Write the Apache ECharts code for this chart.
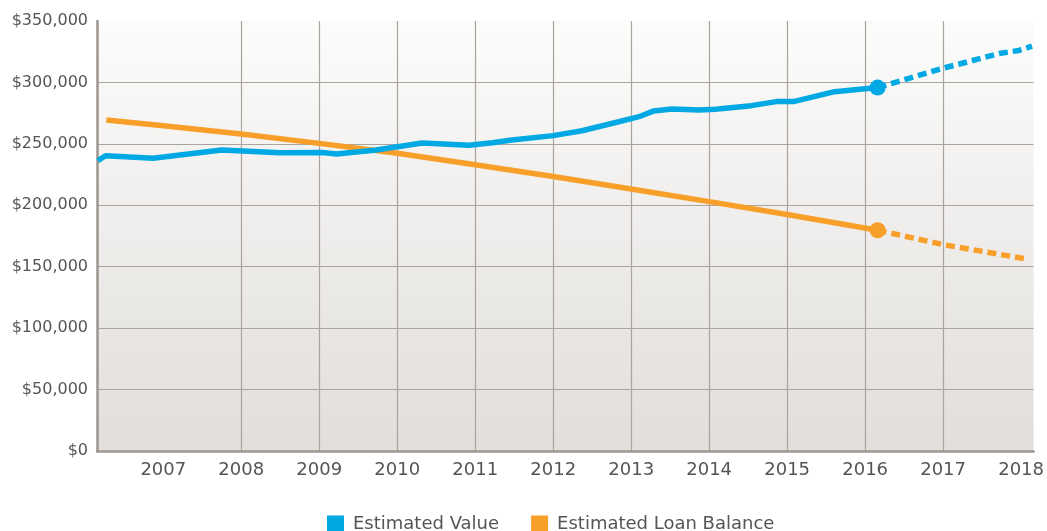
<!DOCTYPE html>
<html>
<head>
<meta charset="utf-8">
<script src="https://cdn.jsdelivr.net/npm/echarts@6/dist/echarts.min.js"></script>
<style>
  html, body { margin: 0; padding: 0; background: #ffffff; }
  #chart { width: 1047px; height: 531px; }
</style>
</head>
<body>
<div id="chart"></div>
<script>
// ---- data ----
const yearTicks = [2007, 2008, 2009, 2010, 2011, 2012, 2013, 2014, 2015, 2016, 2017, 2018];

const valueYears = [2006.16, 2006.26, 2006.87, 2007.75, 2008.49, 2009.04, 2009.22, 2009.73, 2010.32, 2010.92,
  2011.22, 2011.47, 2012.0, 2012.37, 2012.84, 2013.10, 2013.29, 2013.52, 2013.87, 2014.08,
  2014.54, 2014.86, 2015.08, 2015.61, 2016.16];
const valueAmounts = [236400, 240300, 238300, 245000, 242800, 242900, 241800, 245000, 250700, 248800,
  250900, 253100, 256700, 260700, 268000, 272100, 276800, 278400, 277600, 278200,
  281100, 284400, 284400, 292500, 295800];

const valueForecastYears = [2016.16, 2017.0, 2017.74, 2017.97, 2018.14];
const valueForecastAmounts = [295800, 311600, 323800, 326000, 329500];

const loanYears = [2006.27, 2007, 2008, 2009, 2010, 2011, 2012, 2013, 2014, 2015, 2016.16];
const loanAmounts = [269400, 264800, 258000, 250400, 242300, 233000, 223500, 213200, 203000, 192500, 179700];

const loanForecastYears = [2016.16, 2017, 2018.08];
const loanForecastAmounts = [179700, 168000, 156200];

const seriesNames = ['Estimated Value', 'Estimated Loan Balance'];

// ---- build ----
const zip = (xs, ys) => xs.map((x, i) => [x, ys[i]]);
const BLUE = '#00a9e3';
const ORANGE = '#f89f2a';
const TXT = '#555555';
const FONT = 'DejaVu Sans';

const chart = echarts.init(document.getElementById('chart'), null, { renderer: 'canvas' });

const last = (xs, ys) => [[xs[xs.length - 1], ys[ys.length - 1]]];

chart.setOption({
  animation: false,
  backgroundColor: '#ffffff',
  grid: {
    left: 97, right: 12, top: 21, bottom: 80,
    show: true,
    borderWidth: 0,
    backgroundColor: new echarts.graphic.LinearGradient(0, 0, 0, 1, [
      { offset: 0, color: '#fcfcfb' },
      { offset: 1, color: '#e1dedb' }
    ])
  },
  legend: {
    data: seriesNames,
    left: 322,
    top: 510,
    icon: 'rect',
    itemWidth: 17,
    itemHeight: 17,
    itemGap: 32,
    textStyle: { color: TXT, fontFamily: FONT, fontSize: 18, padding: [0, 0, 0, 4] }
  },
  xAxis: {
    type: 'value',
    min: 2006.15,
    max: 2018.16,
    axisLine: { show: true, onZero: false, lineStyle: { color: '#9c968f', width: 2.5 } },
    axisTick: { show: false, customValues: yearTicks },
    axisLabel: {
      customValues: yearTicks,
      color: TXT, fontFamily: FONT, fontSize: 18, margin: 10,
      formatter: v => String(Math.round(v))
    },
    splitLine: { show: true, showMinLine: false, showMaxLine: false, lineStyle: { color: '#aaa49e', width: 1.2 } }
  },
  yAxis: {
    type: 'value',
    min: 0,
    max: 350000,
    interval: 50000,
    axisLine: { show: true, lineStyle: { color: '#9c968f', width: 2.5 } },
    axisTick: { show: false },
    axisLabel: {
      color: TXT, fontFamily: FONT, fontSize: 16, margin: 9,
      formatter: v => '$' + v.toLocaleString('en-US')
    },
    splitLine: { show: true, showMinLine: false, showMaxLine: false, lineStyle: { color: '#aaa49e', width: 1.2 } }
  },
  series: [
    {
      name: seriesNames[0], type: 'line', data: zip(valueYears, valueAmounts),
      showSymbol: false, symbol: 'none', z: 3,
      lineStyle: { color: BLUE, width: 5.5 }, itemStyle: { color: BLUE }
    },
    {
      name: seriesNames[0] + ' forecast', type: 'line', data: zip(valueForecastYears, valueForecastAmounts),
      showSymbol: false, symbol: 'none', z: 3,
      lineStyle: { color: BLUE, width: 5.5, type: [9, 5] }, itemStyle: { color: BLUE }
    },
    {
      name: seriesNames[1], type: 'line', data: zip(loanYears, loanAmounts),
      showSymbol: false, symbol: 'none', z: 2,
      lineStyle: { color: ORANGE, width: 5.5 }, itemStyle: { color: ORANGE }
    },
    {
      name: seriesNames[1] + ' forecast', type: 'line', data: zip(loanForecastYears, loanForecastAmounts),
      showSymbol: false, symbol: 'none', z: 2,
      lineStyle: { color: ORANGE, width: 5.5, type: [9, 5] }, itemStyle: { color: ORANGE }
    },
    {
      name: seriesNames[0] + ' marker', type: 'scatter', data: last(valueYears, valueAmounts),
      symbol: 'circle', symbolSize: 16, z: 4, itemStyle: { color: BLUE, opacity: 1 }
    },
    {
      name: seriesNames[1] + ' marker', type: 'scatter', data: last(loanYears, loanAmounts),
      symbol: 'circle', symbolSize: 16, z: 4, itemStyle: { color: ORANGE, opacity: 1 }
    }
  ]
});
</script>
</body>
</html>
